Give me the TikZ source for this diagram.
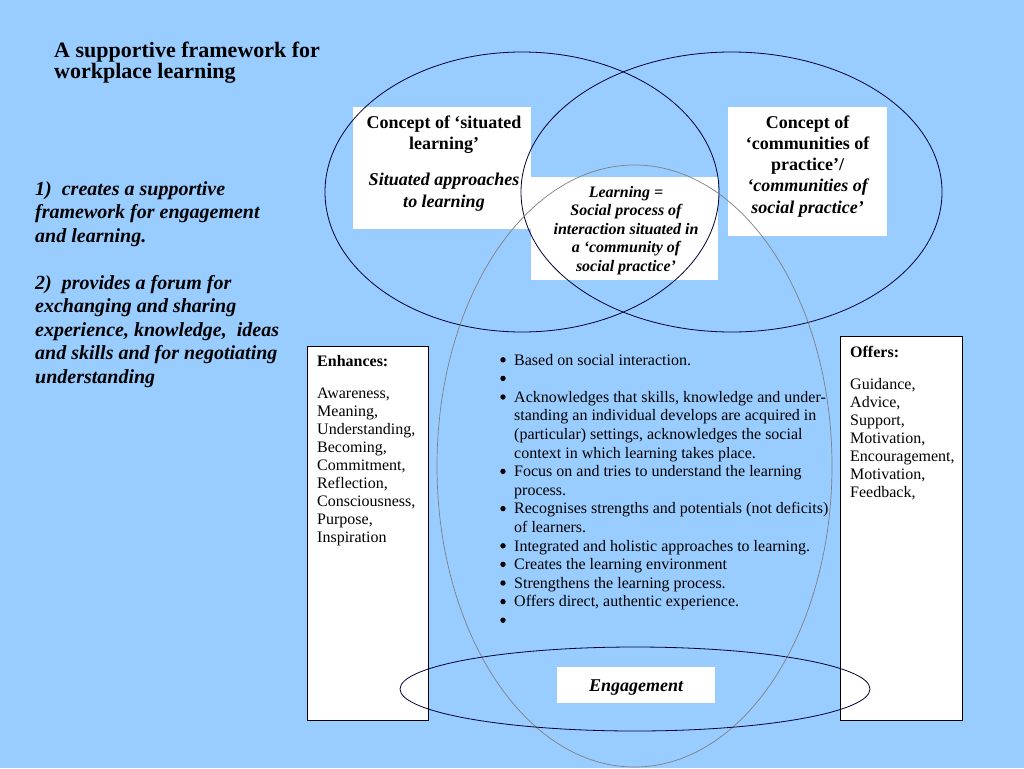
\documentclass[tikz,border=0pt]{standalone}
\usepackage{fontspec}
\setmainfont{Liberation Serif}
\definecolor{slide}{RGB}{153,204,255}
\definecolor{navy}{RGB}{0,0,51}

\begin{document}
\begin{tikzpicture}[x=1pt, y=-1pt,
    panel/.style={fill=white, inner sep=0, outer sep=0, anchor=north west},
    framed/.style={panel, draw=black, line width=0.8pt},
    txt/.style={inner sep=0, anchor=base},
    ring/.style={draw=navy, line width=0.8pt}]
  \fill[slide] (0,0) rectangle (1024,768);

  \node[panel, minimum width=178pt, minimum height=122pt] (situated) at (353,107) {};
  \node[panel, minimum width=187pt, minimum height=103pt] (learning) at (531,177) {};
  \node[panel, minimum width=159pt, minimum height=129pt] (communities) at (728,107) {};
  \node[framed, minimum width=121pt, minimum height=374pt] (enhances) at (307,346) {};
  \node[framed, minimum width=122pt, minimum height=384pt] (offers) at (840,336) {};
  \node[panel, minimum width=158pt, minimum height=36pt] (engagement) at (557,667) {};

  \draw[ring] (522,192) ellipse [x radius=197pt, y radius=140pt];
  \draw[ring] (731.5,192) ellipse [x radius=210.5pt, y radius=140pt];
  \draw[gray, line width=0.7pt] (634.5,466) ellipse [x radius=197.5pt, y radius=301pt];
  \draw[ring] (635,689) ellipse [x radius=235pt, y radius=42pt];

  \node[txt, anchor=base west, font=\bfseries\fontsize{22}{17}\selectfont] (title) at (54,58)
    {\begin{tabular}[t]{@{}l@{}}A supportive framework for\\[0pt] workplace learning\end{tabular}};
  \node[txt, anchor=base west, font=\bfseries\itshape\fontsize{20}{23.5}\selectfont] (aims) at (35,195)
    {\begin{tabular}[t]{@{}l@{}}1)\ \ creates a supportive\\ framework for engagement\\ and learning.\\ \\
      2)\ \ provides a forum for\\ exchanging and sharing\\ experience, knowledge,\ \ ideas\\
      and skills and for negotiating\\ understanding\end{tabular}};

  \node[txt, font=\bfseries\fontsize{18}{21.5}\selectfont] (situatedtext) at ([xshift=2pt, yshift=-21pt]situated.north)
    {\begin{tabular}[t]{@{}c@{}}Concept of ‘situated\\ learning’\\[14.5pt] \itshape Situated approaches\\ \itshape to learning\end{tabular}};
  \node[txt, font=\bfseries\itshape\fontsize{16}{18.5}\selectfont] (learningtext) at ([xshift=1.5pt, yshift=-20pt]learning.north)
    {\begin{tabular}[t]{@{}c@{}}Learning =\\ Social process of\\ interaction situated in\\ a ‘community of\\ social practice’\end{tabular}};
  \node[txt, font=\bfseries\fontsize{18}{21.3}\selectfont] (communitiestext) at ([yshift=-21pt]communities.north)
    {\begin{tabular}[t]{@{}c@{}}Concept of\\ ‘communities of\\ practice’/\\ \itshape ‘communities of\\ \itshape social practice’\end{tabular}};

  \node[txt, anchor=base west, font=\fontsize{16}{18}\selectfont] (enhancestext) at ([xshift=10pt, yshift=-20pt]enhances.north west)
    {\begin{tabular}[t]{@{}l@{}}\textbf{Enhances:}\\[14pt] Awareness,\\ Meaning,\\ Understanding,\\ Becoming,\\ Commitment,\\
      Reflection,\\ Consciousness,\\ Purpose,\\ Inspiration\end{tabular}};
  \node[txt, anchor=base west, font=\fontsize{16}{18}\selectfont] (offerstext) at ([xshift=10pt, yshift=-21pt]offers.north west)
    {\begin{tabular}[t]{@{}l@{}}\textbf{Offers:}\\[14pt] Guidance,\\ Advice,\\ Support,\\ Motivation,\\ Encouragement,\\
      Motivation,\\ Feedback,\end{tabular}};

  \node[txt, anchor=base west, font=\fontsize{16}{18.6}\selectfont] (points) at (514,365)
    {\begin{tabular}[t]{@{}l@{}}
      Based on social interaction.\\
      \\
      Acknowledges that skills, knowledge and under-\\
      standing an individual develops are acquired in\\
      (particular) settings, acknowledges the social\\
      context in which learning takes place.\\
      Focus on and tries to understand the learning\\
      process.\\
      Recognises strengths and potentials (not deficits)\\
      of learners.\\
      Integrated and holistic approaches to learning.\\
      Creates the learning environment\\
      Strengthens the learning process.\\
      Offers direct, authentic experience.\\
      \mbox{}
    \end{tabular}};
  \foreach \r in {0,1,2,6,8,10,11,12,13,14}
    \fill (503,{365-5.2+\r*18.6}) circle (2.7pt);

  \node[txt, font=\bfseries\itshape\fontsize{18}{21}\selectfont] (engagementtext) at ([yshift=-6pt]engagement.center) {Engagement};
\end{tikzpicture}
\end{document}
